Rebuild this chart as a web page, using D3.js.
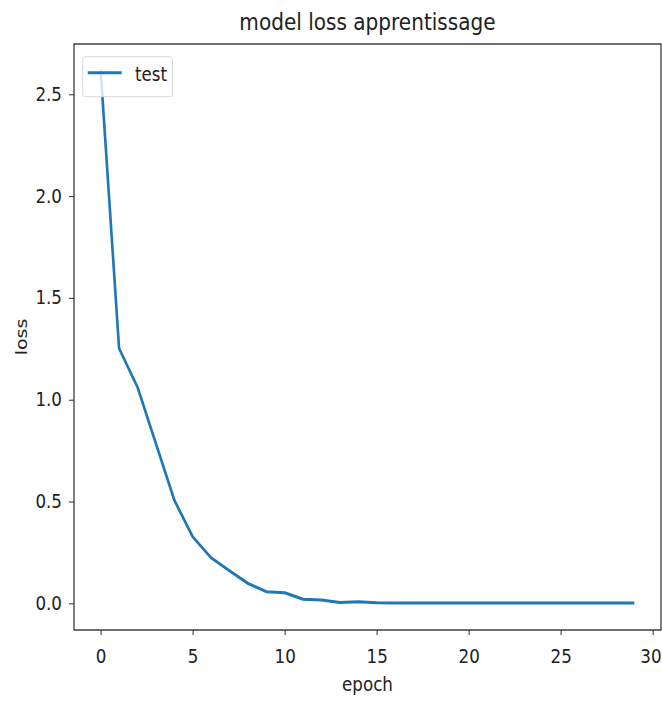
<!DOCTYPE html>
<html>
<head>
<meta charset="utf-8">
<script src="https://cdn.jsdelivr.net/npm/d3@7"></script>
<style>
  html, body { margin: 0; padding: 0; background: #fff; }
  text { font-family: "DejaVu Sans", sans-serif; fill: #222; }
</style>
</head>
<body>
<script>
// loss per epoch
var epochs = d3.range(0, 30);
var loss = [2.617, 1.252, 1.062, 0.785, 0.507, 0.327, 0.224, 0.160, 0.098, 0.057,
            0.052, 0.020, 0.016, 0.004, 0.008, 0.003, 0.002, 0.002, 0.002, 0.001,
            0.002, 0.002, 0.001, 0.001, 0.001, 0.001, 0.001, 0.001, 0.001, 0.001];
var xTicks = [0, 5, 10, 15, 20, 25, 30];
var yTicks = [0.0, 0.5, 1.0, 1.5, 2.0, 2.5];
var seriesName = 'test';

var width = 662, height = 702;
var k = 0.88; // the source picture is squeezed horizontally

var plotLeft = 74 / k, plotRight = 661 / k, plotTop = 44, plotBottom = 630;

var svg = d3.select('body').append('svg')
    .attr('width', width)
    .attr('height', height);

var g = svg.append('g').attr('transform', 'scale(' + k + ',1)');

var x = d3.scaleLinear().domain([-1.45, 30.45]).range([plotLeft, plotRight]);
var y = d3.scaleLinear().domain([-0.131, 2.747]).range([plotBottom, plotTop]);

// axes
g.append('g')
    .attr('transform', 'translate(0,' + plotBottom + ')')
    .call(d3.axisBottom(x).tickValues(xTicks).tickFormat(d3.format('d'))
        .tickSize(5).tickPadding(15).tickSizeOuter(0))
    .call(function (a) {
        a.select('.domain').remove();
        a.selectAll('line').attr('stroke', '#222');
        a.selectAll('text').style('font-size', '19px').attr('fill', '#222');
        // last label sits right at the page edge, keep it inside
        a.selectAll('text').filter(function (d) { return d === 30; }).attr('dx', -2.5);
    });

g.append('g')
    .attr('transform', 'translate(' + plotLeft + ',0)')
    .call(d3.axisLeft(y).tickValues(yTicks).tickFormat(d3.format('.1f'))
        .tickSize(5.7).tickPadding(8).tickSizeOuter(0))
    .call(function (a) {
        a.select('.domain').remove();
        a.selectAll('line').attr('stroke', '#222');
        a.selectAll('text').style('font-size', '19px').attr('fill', '#222');
    });

// line
var line = d3.line()
    .x(function (d, i) { return x(epochs[i]); })
    .y(function (d) { return y(d); });

g.append('path')
    .datum(loss)
    .attr('fill', 'none')
    .attr('stroke', '#1f77b4')
    .attr('stroke-width', 3)
    .attr('stroke-linejoin', 'round')
    .attr('d', line);

// frame
g.append('rect')
    .attr('x', plotLeft)
    .attr('y', plotTop)
    .attr('width', plotRight - plotLeft)
    .attr('height', plotBottom - plotTop)
    .attr('fill', 'none')
    .attr('stroke', '#222')
    .attr('stroke-width', 1.3);

// legend
var lg = g.append('g');
lg.append('rect')
    .attr('x', 94).attr('y', 56.7)
    .attr('width', 102).attr('height', 40)
    .attr('rx', 3)
    .attr('fill', '#fff').attr('fill-opacity', 0.8)
    .attr('stroke', '#d6d6d6');
lg.append('line')
    .attr('x1', 99.7).attr('x2', 138.3)
    .attr('y1', 72.7).attr('y2', 72.7)
    .attr('stroke', '#1f77b4')
    .attr('stroke-width', 3);
lg.append('text')
    .attr('x', 153.4).attr('y', 81)
    .style('font-size', '19px')
    .text(seriesName);

// titles
g.append('text')
    .attr('x', (plotLeft + plotRight) / 2).attr('y', 30)
    .attr('text-anchor', 'middle')
    .style('font-size', '22.8px')
    .text('model loss apprentissage');

g.append('text')
    .attr('x', (plotLeft + plotRight) / 2).attr('y', 691)
    .attr('text-anchor', 'middle')
    .style('font-size', '19px')
    .text('epoch');

g.append('text')
    .attr('transform', 'translate(' + (27 / k) + ',' + ((plotTop + plotBottom) / 2) + ') rotate(-90)')
    .attr('text-anchor', 'middle')
    .style('font-size', '19px')
    .text('loss');
</script>
</body>
</html>
